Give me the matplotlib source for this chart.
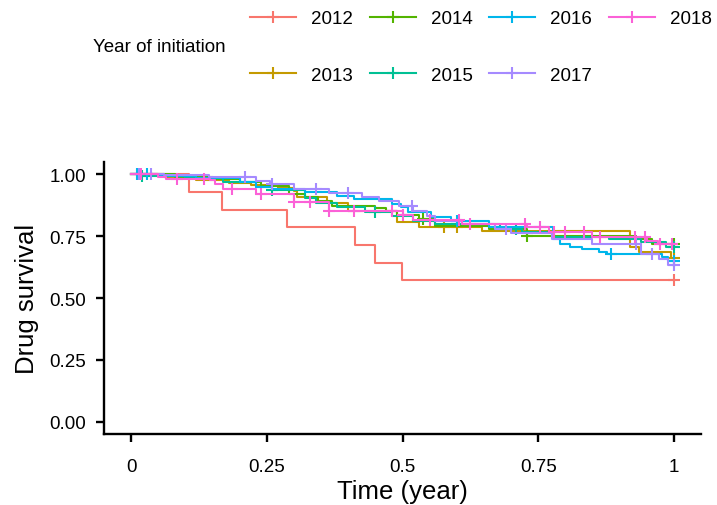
import numpy as np
import matplotlib
matplotlib.use("Agg")
from matplotlib import pyplot as plt
from matplotlib.lines import Line2D

plt.rcParams['font.family'] = ['Liberation Sans', 'DejaVu Sans']

years = ["2012", "2013", "2014", "2015", "2016", "2017", "2018"]
colors = ["#F8766D", "#C49A00", "#53B400", "#00C094", "#00B6EB", "#A58AFF", "#FB61D7"]

# event times (year) and survival after each step
t_2012 = [0.107, 0.168, 0.288, 0.413, 0.449, 0.499]
s_2012 = [0.929, 0.857, 0.786, 0.714, 0.643, 0.571]
c_2012 = [1.0]

t_2013 = [0.06, 0.12, 0.18, 0.22, 0.27, 0.30, 0.305, 0.36, 0.40, 0.49, 0.53, 0.647, 0.92, 0.935, 0.995]
s_2013 = [0.99, 0.976, 0.965, 0.955, 0.944, 0.932, 0.907, 0.883, 0.85, 0.806, 0.786, 0.77, 0.706, 0.686, 0.663]
c_2013 = [0.577, 0.60, 1.0]

t_2014 = [0.08, 0.15, 0.20, 0.24, 0.29, 0.32, 0.345, 0.37, 0.45, 0.47, 0.49, 0.53, 0.56, 0.66, 0.73, 0.93, 0.96]
s_2014 = [0.99, 0.98, 0.968, 0.952, 0.92, 0.907, 0.891, 0.871, 0.863, 0.85, 0.835, 0.82, 0.79, 0.778, 0.752, 0.738, 0.718]
c_2014 = [0.537, 0.73, 1.0]

t_2015 = [0.02, 0.10, 0.17, 0.23, 0.26, 0.32, 0.34, 0.38, 0.43, 0.48, 0.52, 0.56, 0.68, 0.72, 0.78, 0.88, 0.94, 0.985]
s_2015 = [0.995, 0.985, 0.97, 0.948, 0.935, 0.905, 0.885, 0.867, 0.848, 0.83, 0.81, 0.798, 0.78, 0.766, 0.748, 0.738, 0.725, 0.708]
c_2015 = [0.02, 0.26, 0.45, 0.71, 1.0]

t_2016 = [0.05, 0.12, 0.20, 0.23, 0.26, 0.32, 0.38, 0.41, 0.48, 0.497, 0.51, 0.553, 0.59, 0.66, 0.777, 0.79, 0.808, 0.83, 0.862, 0.876, 0.978, 0.99]
s_2016 = [0.995, 0.985, 0.97, 0.948, 0.94, 0.927, 0.911, 0.899, 0.879, 0.867, 0.847, 0.827, 0.81, 0.786, 0.738, 0.718, 0.706, 0.698, 0.686, 0.677, 0.665, 0.649]
c_2016 = [0.01, 0.03, 0.60, 0.885, 1.0]

t_2017 = [0.06, 0.144, 0.23, 0.255, 0.30, 0.365, 0.426, 0.457, 0.494, 0.52, 0.545, 0.56, 0.61, 0.67, 0.70, 0.775, 0.85, 0.94, 0.972, 0.99]
s_2017 = [0.996, 0.99, 0.975, 0.96, 0.942, 0.926, 0.908, 0.893, 0.872, 0.852, 0.832, 0.812, 0.798, 0.78, 0.762, 0.738, 0.718, 0.677, 0.657, 0.633]
c_2017 = [0.015, 0.037, 0.21, 0.26, 0.34, 0.40, 0.517, 0.69, 0.93, 0.96, 1.0]

t_2018 = [0.05, 0.065, 0.145, 0.155, 0.17, 0.23, 0.30, 0.365, 0.50, 0.52, 0.61, 0.73, 0.77, 0.85, 0.95, 0.97]
s_2018 = [0.99, 0.98, 0.976, 0.96, 0.94, 0.92, 0.887, 0.851, 0.835, 0.815, 0.80, 0.786, 0.766, 0.746, 0.73, 0.718]
c_2018 = [0.018, 0.085, 0.135, 0.185, 0.24, 0.30, 0.33, 0.365, 0.41, 0.48, 0.50, 0.55, 0.605,
          0.624, 0.725, 0.753, 0.78, 0.80, 0.835, 0.863, 0.928, 0.946, 0.974, 0.996]

times = [t_2012, t_2013, t_2014, t_2015, t_2016, t_2017, t_2018]
survs = [s_2012, s_2013, s_2014, s_2015, s_2016, s_2017, s_2018]
cens = [c_2012, c_2013, c_2014, c_2015, c_2016, c_2017, c_2018]

fig = plt.figure(figsize=(7.17, 5.06), dpi=100)
ax = fig.add_axes([104/717, 71/506, 597/717, 272/506])

for yr, col, t, s, c in zip(years, colors, times, survs, cens):
    tt = np.array([0.0] + t + [1.0])
    ss = np.array([1.0] + s + [s[-1]])
    ax.step(tt, ss, where='post', color=col, lw=1.5)
    c = np.array(c)
    idx = np.searchsorted(tt, c, side='right') - 1
    ax.plot(c, ss[idx], ls='none', marker='+', ms=8, mew=1.5, color=col)

ax.set_xlim(-0.05, 1.05)
ax.set_ylim(-0.05, 1.05)
ax.set_xticks([0, 0.25, 0.5, 0.75, 1])
ax.set_xticklabels(["0", "0.25", "0.5", "0.75", "1"])
ax.set_yticks([0, 0.25, 0.5, 0.75, 1])
ax.set_yticklabels(["0.00", "0.25", "0.50", "0.75", "1.00"])
ax.tick_params(labelsize=13.5, length=6, width=1.7, pad=7, colors='black')
ax.tick_params(axis='x', pad=11)
for sp in ['top', 'right']:
    ax.spines[sp].set_visible(False)
for sp in ['left', 'bottom']:
    ax.spines[sp].set_linewidth(1.7)
ax.set_xlabel("Time (year)", fontsize=18.5, labelpad=3)
ax.set_ylabel("Drug survival", fontsize=18.5, labelpad=7)

handles = [Line2D([], [], color=col, lw=1.5, marker='+', ms=8, mew=1.5) for col in colors]
fig.legend(handles, years, loc='upper left', bbox_to_anchor=(250/717, 1 - 11/506),
           ncol=4, frameon=False, fontsize=13.5, handlelength=2.45, handletextpad=0.8,
           columnspacing=0.9, labelspacing=2.12, borderpad=0, borderaxespad=0, numpoints=1)
fig.text(93/717, 1 - 48/506, "Year of initiation", fontsize=13.5, va='center', ha='left')

fig.savefig("out.png", dpi=100)
